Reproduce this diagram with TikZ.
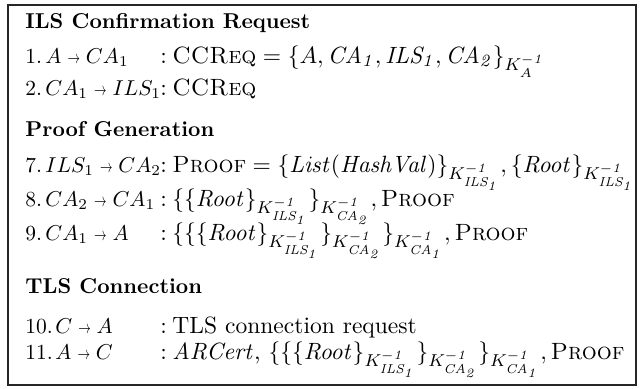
\documentclass[tikz,border=0pt]{standalone}
\usepackage{graphicx}
\newcommand{\sto}{\mathrel{\scalebox{0.58}[0.85]{$\rightarrow$}}}
\newcommand{\ik}[1]{K^{\mathit{-1}}_{\mathit{#1}}}
\tikzset{
  txt/.style={anchor=base west, inner sep=0pt, font=\fontsize{10.95}{13}\selectfont},
  lft/.style={anchor=base west, inner sep=0pt, font=\fontsize{10}{12}\selectfont},
  head/.style={anchor=base west, inner sep=0pt, font=\fontsize{10}{12}\selectfont\bfseries},
  frame/.style={draw=black!85, line width=0.8pt}
}
\begin{document}
\begin{tikzpicture}[x=0.4651pt, y=-0.4651pt]
\useasboundingbox (0,0) rectangle (644,388);
\draw[frame] (8,5) rectangle (636,385);
% block 1
\node[head] (h1) at (25,28) {ILS Confirmation Request};
\node[lft] (n1) at (25,63) {1.};
\node[lft] (s1) at (45,63) {$A \sto CA_1$};
\node[txt] (k1) at (160,63) {:};
\node[txt] (c1) at (172,63) {$\textsc{CCReq} = \{A, \mathit{CA_1}, \mathit{ILS_1}, \mathit{CA_2}\}_{K_A^{\mathit{-1}}}$};
\node[lft] (n2) at (25,95) {2.};
\node[lft] (s2) at (45,95) {$CA_1 \sto ILS_1$};
\node[txt] (k2) at (160,95) {:};
\node[txt] (c2) at (172,95) {\textsc{CCReq}};
% block 2
\node[head] (h2) at (25,136) {Proof Generation};
\node[lft] (n7) at (25,172) {7.};
\node[lft] (s7) at (45,172) {$ILS_1 \sto CA_2$};
\node[txt] (k7) at (160,172) {:};
\node[txt] (c7) at (172,172) {$\textsc{Proof} = \{\mathit{List(HashVal)}\}_{\ik{ILS_1}}, \{\mathit{Root}\}_{\ik{ILS_1}}$};
\node[lft] (n8) at (25,206) {8.};
\node[lft] (s8) at (45,206) {$CA_2 \sto CA_1$};
\node[txt] (k8) at (160,206) {:};
\node[txt] (c8) at (172,206) {$\{\{\mathit{Root}\}_{\ik{ILS_1}}\}_{\ik{CA_2}}, \textsc{Proof}$};
\node[lft] (n9) at (25,240) {9.};
\node[lft] (s9) at (45,240) {$CA_1 \sto A$};
\node[txt] (k9) at (160,240) {:};
\node[txt] (c9) at (172,240) {$\{\{\{\mathit{Root}\}_{\ik{ILS_1}}\}_{\ik{CA_2}}\}_{\ik{CA_1}}, \textsc{Proof}$};
% block 3
\node[head] (h3) at (25,293) {TLS Connection};
\node[lft] (n10) at (25,333) {10.};
\node[lft] (s10) at (55,333) {$C \sto A$};
\node[txt] (k10) at (160,333) {:};
\node[txt] (c10) at (172,333) {TLS connection request};
\node[lft] (n11) at (25,359) {11.};
\node[lft] (s11) at (55,359) {$A \sto C$};
\node[txt] (k11) at (160,359) {:};
\node[txt] (c11) at (172,359) {$\mathit{ARCert}$, $\{\{\{\mathit{Root}\}_{\ik{ILS_1}}\}_{\ik{CA_2}}\}_{\ik{CA_1}}, \textsc{Proof}$};
\end{tikzpicture}
\end{document}
